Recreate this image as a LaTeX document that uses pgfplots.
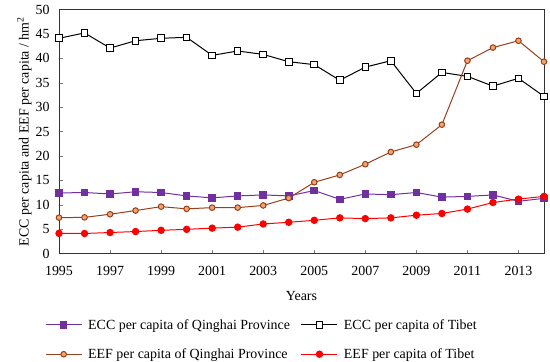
\documentclass[border=0pt]{standalone}
\usepackage{pgfplots}
\pgfplotsset{compat=1.18}
\usepackage{fontspec}
\setmainfont{Liberation Serif}
\definecolor{cpurple}{HTML}{7030A0}
\definecolor{cbrown}{HTML}{993F1A}
\definecolor{corange}{HTML}{F2A36E}
\definecolor{cred}{HTML}{FF0000}
\pgfplotsset{longleg/.style={legend image code/.code={\draw[mark repeat=2,mark phase=2] plot coordinates {(0bp,0bp)(18bp,0bp)(36bp,0bp)};}}}
\begin{document}
\begin{tikzpicture}[font=\fontsize{14}{16}\selectfont]
\begin{axis}[
  name=ax,
  scale only axis,
  width=485bp, height=244bp,
  xmin=1995, xmax=2014, ymin=0, ymax=50,
  xtick={1995,1997,...,2013},
  ytick={0,5,...,50},
  xticklabel style={/pgf/number format/1000 sep={}, yshift=-9bp},
  yticklabel style={xshift=-6bp},
  /pgf/number format/assume math mode=true,
  tick align=inside,
  tick pos=left,
  major tick length=4bp,
  axis line style={line width=0.9pt, black!80},
  xlabel={Years},
  ylabel={ECC per capita and EEF per capita / hm\textsuperscript{2}},
  xlabel style={yshift=-9bp},
  ylabel style={yshift=-3bp},
  legend style={at={(-0.0289,-0.244)}, anchor=north west, draw=none, legend columns=2,
    font=\fontsize{14}{16}\selectfont, row sep=6bp, inner sep=0pt,
    nodes={inner sep=6bp},
    /tikz/every even column/.append style={column sep=5bp}},
  legend cell align=left,
]
\addplot[cpurple, line width=1pt, mark=square*, mark size=3.3bp, mark options={fill=cpurple}, longleg]
coordinates {(1995,12.4)(1996,12.5)(1997,12.2)(1998,12.65)(1999,12.5)(2000,11.8)(2001,11.4)(2002,11.8)(2003,12.0)(2004,11.8)(2005,12.9)(2006,11.1)(2007,12.2)(2008,12.05)(2009,12.5)(2010,11.55)(2011,11.7)(2012,12.0)(2013,10.7)(2014,11.3)};
\addlegendentry{ECC per capita of Qinghai Province}
\addplot[black, line width=1pt, mark=square*, mark size=3.3bp, mark options={fill=white, solid}, longleg]
coordinates {(1995,44.1)(1996,45.2)(1997,42.1)(1998,43.6)(1999,44.1)(2000,44.3)(2001,40.6)(2002,41.5)(2003,40.8)(2004,39.3)(2005,38.7)(2006,35.5)(2007,38.2)(2008,39.5)(2009,32.8)(2010,37.1)(2011,36.3)(2012,34.3)(2013,35.9)(2014,32.2)};
\addlegendentry{ECC per capita of Tibet}
\addplot[cbrown, line width=1pt, mark=*, mark size=2.8bp, mark options={fill=corange, draw=cbrown}, longleg]
coordinates {(1995,7.35)(1996,7.4)(1997,8.05)(1998,8.8)(1999,9.6)(2000,9.15)(2001,9.4)(2002,9.4)(2003,9.85)(2004,11.35)(2005,14.6)(2006,16.1)(2007,18.3)(2008,20.8)(2009,22.3)(2010,26.4)(2011,39.5)(2012,42.2)(2013,43.6)(2014,39.3)};
\addlegendentry{EEF per capita of Qinghai Province}
\addplot[cred, line width=1pt, mark=*, mark size=3.2bp, mark options={fill=cred}, longleg]
coordinates {(1995,4.13)(1996,4.1)(1997,4.3)(1998,4.5)(1999,4.75)(2000,4.95)(2001,5.2)(2002,5.4)(2003,6.05)(2004,6.4)(2005,6.8)(2006,7.3)(2007,7.15)(2008,7.3)(2009,7.85)(2010,8.2)(2011,9.1)(2012,10.45)(2013,11.15)(2014,11.7)};
\addlegendentry{EEF per capita of Tibet}
\end{axis}
\pgfresetboundingbox
\path ([shift={(-59bp,-108.5bp)}]ax.south west) rectangle ([shift={(6bp,9.5bp)}]ax.north east);
\end{tikzpicture}
\end{document}
